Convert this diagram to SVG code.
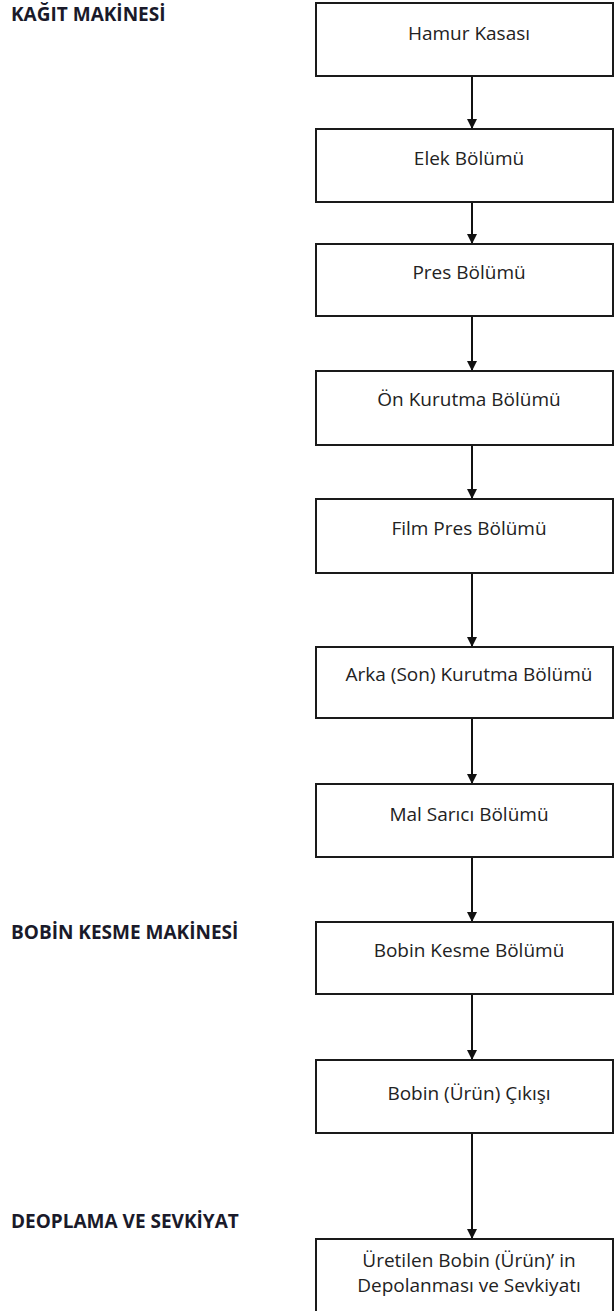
<svg xmlns="http://www.w3.org/2000/svg" width="615" height="1311" viewBox="0 0 615 1311">
<style>
.box{fill:#fff;stroke:#1a1a1a;stroke-width:2}
.t{font-family:"Open Sans","Noto Sans",sans-serif;font-size:19px;fill:#222;text-anchor:middle}
.lbl{font-family:"Open Sans","Noto Sans",sans-serif;font-size:19px;font-weight:bold;fill:#1a1a2a}
.c{stroke:#111;stroke-width:2;fill:none}
</style>
<defs>
<marker id="ah" viewBox="0 0 10 10" refX="10" refY="5" markerWidth="10" markerHeight="10" markerUnits="userSpaceOnUse" orient="auto">
<path d="M0,0 L10,5 L0,10 Z" fill="#111"/>
</marker>
</defs>
<rect width="615" height="1311" fill="#fff"/>
<g id="labels">
<text class="lbl" x="11" y="21">KAĞIT MAKİNESİ</text>
<text class="lbl" x="11" y="939">BOBİN KESME MAKİNESİ</text>
<text class="lbl" x="11" y="1228">DEOPLAMA VE SEVKİYAT</text>
</g>
<g id="connectors">
<line class="c" x1="472" y1="76" x2="472" y2="129" marker-end="url(#ah)"/>
<line class="c" x1="472" y1="202" x2="472" y2="244" marker-end="url(#ah)"/>
<line class="c" x1="472" y1="316" x2="472" y2="371" marker-end="url(#ah)"/>
<line class="c" x1="472" y1="445" x2="472" y2="499" marker-end="url(#ah)"/>
<line class="c" x1="472" y1="573" x2="472" y2="647" marker-end="url(#ah)"/>
<line class="c" x1="472" y1="718" x2="472" y2="784" marker-end="url(#ah)"/>
<line class="c" x1="472" y1="857" x2="472" y2="922" marker-end="url(#ah)"/>
<line class="c" x1="472" y1="994" x2="472" y2="1060" marker-end="url(#ah)"/>
<line class="c" x1="472" y1="1133" x2="472" y2="1239" marker-end="url(#ah)"/>
</g>
<g id="n1"><rect class="box" x="316" y="3" width="297" height="73"/><text class="t" x="469" y="40">Hamur Kasası</text></g>
<g id="n2"><rect class="box" x="316" y="129" width="297" height="73"/><text class="t" x="469" y="165">Elek Bölümü</text></g>
<g id="n3"><rect class="box" x="316" y="244" width="297" height="72"/><text class="t" x="469" y="279">Pres Bölümü</text></g>
<g id="n4"><rect class="box" x="316" y="371" width="297" height="74"/><text class="t" x="469" y="406">Ön Kurutma Bölümü</text></g>
<g id="n5"><rect class="box" x="316" y="499" width="297" height="74"/><text class="t" x="469" y="535">Film Pres Bölümü</text></g>
<g id="n6"><rect class="box" x="316" y="647" width="297" height="71"/><text class="t" x="469" y="681">Arka (Son) Kurutma Bölümü</text></g>
<g id="n7"><rect class="box" x="316" y="784" width="297" height="73"/><text class="t" x="469" y="821">Mal Sarıcı Bölümü</text></g>
<g id="n8"><rect class="box" x="316" y="922" width="297" height="72"/><text class="t" x="469" y="957">Bobin Kesme Bölümü</text></g>
<g id="n9"><rect class="box" x="316" y="1060" width="297" height="73"/><text class="t" x="469" y="1100">Bobin (Ürün) Çıkışı</text></g>
<g id="n10"><rect class="box" x="316" y="1239" width="297" height="80"/><text class="t" x="469" y="1267">Üretilen Bobin (Ürün)’ in</text><text class="t" x="469" y="1292">Depolanması ve Sevkiyatı</text></g>
</svg>
